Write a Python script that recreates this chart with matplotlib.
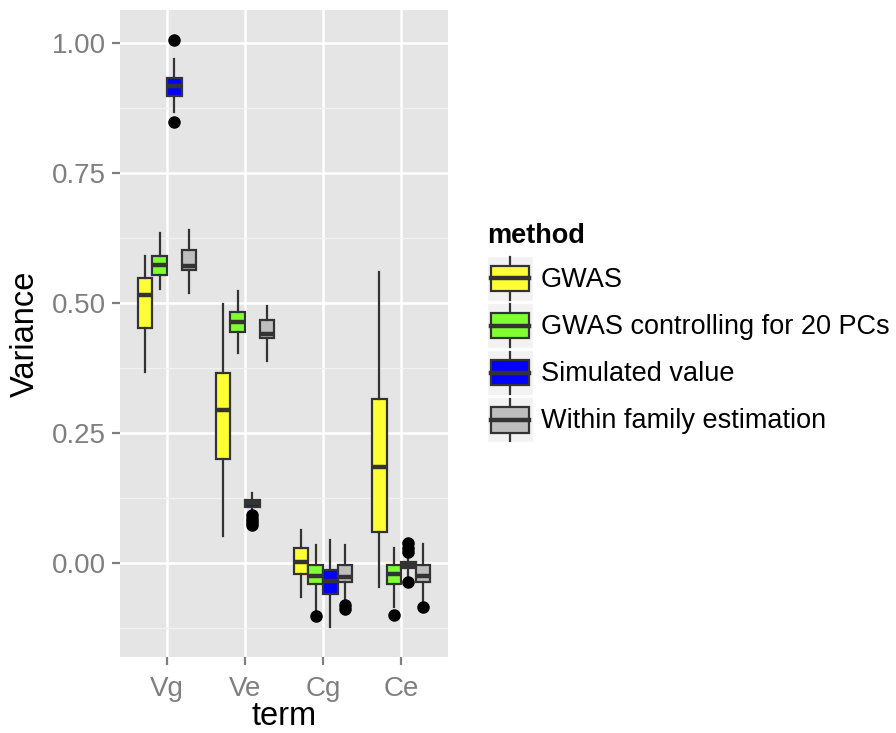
import matplotlib
matplotlib.use("Agg")
import matplotlib.pyplot as plt
from matplotlib.patches import Rectangle
from matplotlib.lines import Line2D
from matplotlib.legend_handler import HandlerBase

plt.rcParams['font.family'] = ['Liberation Sans', 'DejaVu Sans']

terms = ['Vg', 'Ve', 'Cg', 'Ce']
methods = ['GWAS', 'GWAS controlling for 20 PCs', 'Simulated value', 'Within family estimation']
colors = ['#FFFF33', '#80FF33', '#0000FF', '#BEBEBE']

# per method: rows = terms, columns = (whisker low, q1, median, q3, whisker high)
gwas = [[0.367, 0.452, 0.515, 0.548, 0.590],
        [0.051, 0.200, 0.294, 0.366, 0.498],
        [-0.066, -0.022, 0.001, 0.028, 0.063],
        [-0.047, 0.060, 0.185, 0.315, 0.560]]
gwas_pc = [[0.527, 0.554, 0.573, 0.590, 0.635],
           [0.404, 0.444, 0.463, 0.483, 0.522],
           [-0.090, -0.040, -0.026, -0.005, 0.035],
           [-0.084, -0.040, -0.022, -0.005, 0.028]]
simulated = [[0.866, 0.898, 0.917, 0.932, 0.968],
             [0.098, 0.108, 0.115, 0.121, 0.135],
             [-0.124, -0.060, -0.035, -0.013, 0.044],
             [-0.026, -0.010, -0.004, 0.001, 0.015]]
within = [[0.519, 0.563, 0.571, 0.602, 0.640],
          [0.389, 0.432, 0.440, 0.467, 0.493],
          [-0.077, -0.036, -0.027, -0.004, 0.035],
          [-0.078, -0.036, -0.026, -0.005, 0.036]]

gwas_out = [[], [], [], []]
gwas_pc_out = [[], [], [-0.102], [-0.100]]
simulated_out = [[1.006, 0.847], [0.092, 0.085, 0.078, 0.073], [], [0.038, 0.028, 0.020, -0.036]]
within_out = [[], [], [-0.081, -0.089], [-0.084]]

series = [gwas, gwas_pc, simulated, within]
outliers = [gwas_out, gwas_pc_out, simulated_out, within_out]

fig = plt.figure(figsize=(8.96, 7.33), dpi=100)
ax = fig.add_axes([120/896, 1 - 657/733, (448-120)/896, (657-10)/733])
ax.set_facecolor('#E5E5E5')

dodge = 0.75
bw = dodge / 4
edge = '#333333'
for m, (stats_m, out_m) in enumerate(zip(series, outliers)):
    stats = []
    pos = []
    for t in range(len(terms)):
        lo, q1, med, q3, hi = stats_m[t]
        stats.append(dict(whislo=lo, q1=q1, med=med, q3=q3, whishi=hi, fliers=out_m[t]))
        pos.append(t + 1 - dodge/2 + bw/2 + m*bw)
    ax.bxp(stats, positions=pos, widths=bw, patch_artist=True, showcaps=False,
           boxprops=dict(facecolor=colors[m], edgecolor=edge, linewidth=1.6),
           whiskerprops=dict(color=edge, linewidth=1.6),
           medianprops=dict(color=edge, linewidth=3.2, solid_capstyle='butt'),
           flierprops=dict(marker='o', markerfacecolor='black', markeredgecolor='black', markersize=8),
           manage_ticks=False, zorder=3)

ax.set_xlim(0.4, 4.6)
ax.set_ylim(-0.181, 1.063)
ax.set_xticks(range(1, len(terms)+1))
ax.set_xticklabels(terms)
ax.set_yticks([0, 0.25, 0.5, 0.75, 1.0])
ax.set_yticklabels(['0.00', '0.25', '0.50', '0.75', '1.00'])
ax.set_yticks([-0.125, 0.125, 0.375, 0.625, 0.875], minor=True)
ax.set_xticks([], minor=True)
ax.grid(True, which='major', color='white', linewidth=1.8, zorder=0)
ax.grid(True, which='minor', axis='y', color='#F2F2F2', linewidth=0.9, zorder=0)
ax.set_axisbelow(True)
for s in ax.spines.values():
    s.set_visible(False)
ax.tick_params(which='major', colors='#7F7F7F', labelsize=20, length=6, width=1.6, pad=4)
ax.tick_params(axis='x', which='major', pad=8)
ax.tick_params(which='minor', length=0)
ax.set_xlabel('term', fontsize=23.5, color='black', labelpad=-1)
ax.set_ylabel('Variance', fontsize=23.5, color='black', labelpad=8)


class BoxHandler(HandlerBase):
    def create_artists(self, legend, orig_handle, xdescent, ydescent, width, height, fontsize, trans):
        fc = orig_handle.get_facecolor()
        x0, y0 = -xdescent, -ydescent
        bg = Rectangle((x0, y0), width, height, facecolor='#F2F2F2', edgecolor='white', linewidth=1, transform=trans)
        bx0 = x0 + width*0.08
        bwid = width*0.84
        by0 = y0 + height*0.22
        bh = height*0.56
        cx = x0 + width/2
        w1 = Line2D([cx, cx], [y0 + height*0.03, by0], color=edge, linewidth=1.6, transform=trans)
        w2 = Line2D([cx, cx], [by0 + bh, y0 + height*0.97], color=edge, linewidth=1.6, transform=trans)
        box = Rectangle((bx0, by0), bwid, bh, facecolor=fc, edgecolor=edge, linewidth=1.6, transform=trans)
        med = Line2D([bx0, bx0 + bwid], [by0 + bh/2]*2, color=edge, linewidth=3.2, transform=trans)
        return [bg, w1, w2, box, med]


handles = [Rectangle((0, 0), 1, 1, facecolor=c) for c in colors]
leg = fig.legend(handles, methods, loc='upper left', bbox_to_anchor=(487/896, 1 - 223/733),
                 frameon=False, fontsize=19.5, title='method',
                 title_fontproperties={'weight': 'bold', 'size': 19.5},
                 handler_map={Rectangle: BoxHandler()},
                 handlelength=1.7, handleheight=2.18, handletextpad=0.28,
                 labelspacing=0.08, borderpad=0, borderaxespad=0, alignment='left')
leg._legend_box.sep = 5

fig.savefig('out.png', dpi=100)
